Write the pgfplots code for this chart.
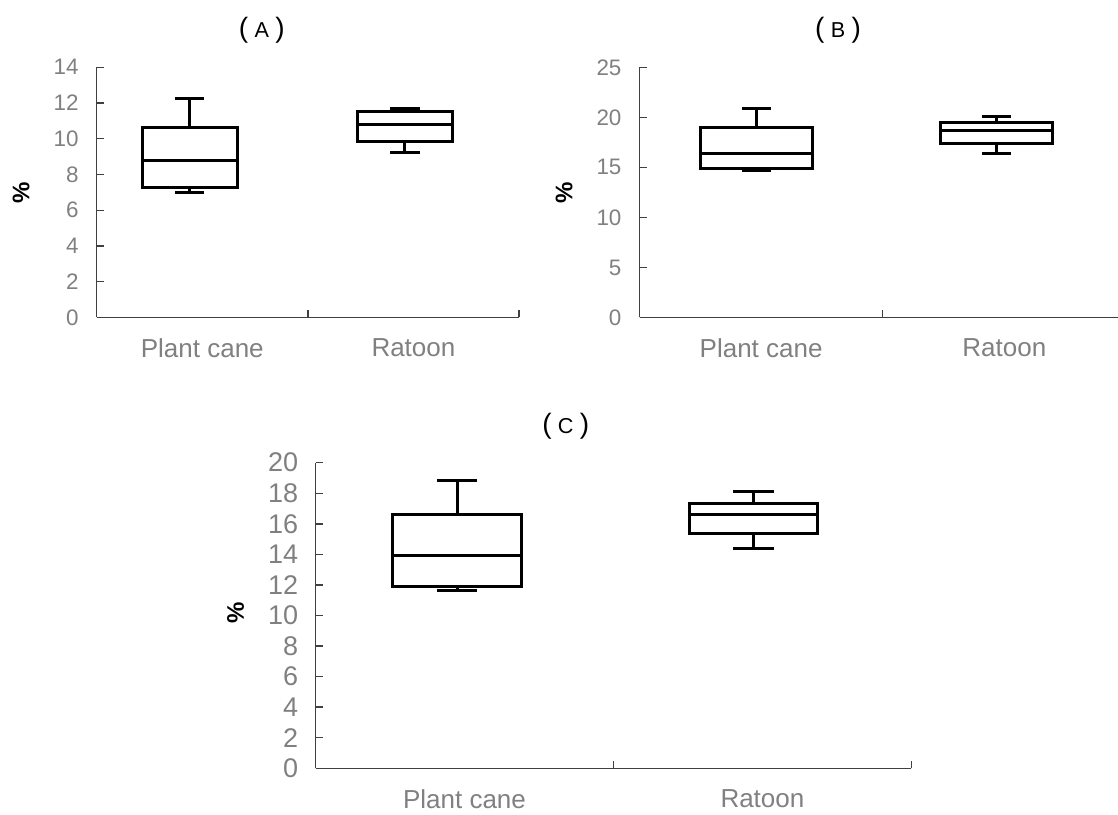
\documentclass[border=0pt]{standalone}
\usepackage{pgfplots}
\pgfplotsset{compat=1.18}
\usepgfplotslibrary{statistics}
\usepackage{fontspec}
\setmainfont{Liberation Sans}
\definecolor{tickgray}{HTML}{808080}
\definecolor{axiscol}{HTML}{404040}
\newcommand{\ptitle}[1]{{\fontsize{14}{16}\selectfont(}\hspace{3.2pt}{\fontsize{10.8}{12}\selectfont #1}\hspace{3.2pt}{\fontsize{14}{16}\selectfont)}}
\pgfplotsset{
  mybox/.style={
    scale only axis,
    boxplot/draw direction=y,
    xmin=-0.5, xmax=1.5, ymin=0,
    axis x line*=bottom, axis y line*=left,
    axis line style={axiscol, line width=0.7pt},
    tick align=inside,
    major tick length=3.5pt,
    tick style={axiscol, line width=0.7pt},
    xtick={0.5,1.5}, xticklabels={},
    extra x ticks={0,1},
    extra x tick labels={Plant cane, Ratoon},
    extra x tick style={major tick length=0pt, tick style={draw=none}},
    /pgf/number format/assume math mode=true,
    ticklabel style={color=tickgray},
    x tick label style={font=\fontsize{13}{15}\selectfont, yshift=-7pt},
    ylabel={\textbf{\%}},
    ylabel style={font=\fontsize{12}{14}\selectfont, color=black},
    clip=false,
  },
  bx/.style={black, line width=1.5pt, solid, mark=none},
}
\begin{document}
\begin{tikzpicture}
\path[use as bounding box] (0,0) rectangle (559pt,407pt);
% Panel A
\begin{axis}[mybox,
  at={(48.35pt,248.25pt)}, anchor=south west,
  width=211.15pt, height=125.1pt,
  ymax=14, ytick distance=2,
  y tick label style={font=\fontsize{11.2}{13}\selectfont, xshift=-5.5pt},
  ylabel style={at={(axis description cs:-0.179,0.5)}, anchor=center},
]
\addplot[bx, boxplot prepared={draw position=-0.06, lower whisker=6.97, lower quartile=7.29, median=8.78, upper quartile=10.63, upper whisker=12.23, box extend=0.45, whisker extend=0.14}] coordinates {};
\addplot[bx, boxplot prepared={draw position=0.96, lower whisker=9.21, lower quartile=9.84, median=10.78, upper quartile=11.50, upper whisker=11.71, box extend=0.45, whisker extend=0.14}] coordinates {};
\node[anchor=center, inner sep=0pt] at (rel axis cs:0.391,1.149) {\ptitle{A}};
\end{axis}
% Panel B
\begin{axis}[mybox,
  at={(319.75pt,248.25pt)}, anchor=south west,
  width=243.25pt, height=125.1pt,
  ymax=25, ytick distance=5,
  y tick label style={font=\fontsize{11.2}{13}\selectfont, xshift=-5.5pt},
  ylabel style={at={(axis description cs:-0.155,0.5)}, anchor=center},
]
\addplot[bx, boxplot prepared={draw position=-0.02, lower whisker=14.73, lower quartile=14.93, median=16.43, upper quartile=19.0, upper whisker=20.93, box extend=0.46, whisker extend=0.12}] coordinates {};
\addplot[bx, boxplot prepared={draw position=0.967, lower whisker=16.43, lower quartile=17.43, median=18.67, upper quartile=19.53, upper whisker=20.13, box extend=0.46, whisker extend=0.12}] coordinates {};
\node[anchor=center, inner sep=0pt] at (rel axis cs:0.408,1.149) {\ptitle{B}};
\end{axis}
% Panel C
\begin{axis}[mybox,
  at={(157.75pt,22.85pt)}, anchor=south west,
  width=297.95pt, height=152.8pt,
  ymax=20, ytick distance=2,
  y tick label style={font=\fontsize{13.5}{15}\selectfont, xshift=-5.2pt},
  ylabel style={at={(axis description cs:-0.134,0.51)}, anchor=center},
]
\addplot[bx, boxplot prepared={draw position=-0.025, lower whisker=11.61, lower quartile=11.87, median=13.92, upper quartile=16.58, upper whisker=18.85, box extend=0.43, whisker extend=0.136}] coordinates {};
\addplot[bx, boxplot prepared={draw position=0.97, lower whisker=14.40, lower quartile=15.36, median=16.60, upper quartile=17.36, upper whisker=18.10, box extend=0.43, whisker extend=0.136}] coordinates {};
\node[anchor=center, inner sep=0pt] at (rel axis cs:0.42,1.12) {\ptitle{C}};
\end{axis}
\end{tikzpicture}
\end{document}
